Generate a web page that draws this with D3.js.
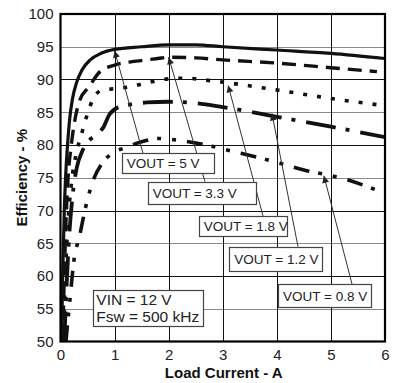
<!DOCTYPE html>
<html><head><meta charset="utf-8">
<script src="https://cdn.jsdelivr.net/npm/d3@7"></script>
<style>body{margin:0;background:#fff}svg{display:block}</style>
</head><body>
<svg id="c" width="396" height="383"></svg>
<script>
// ---- data ----
const xTicks = [0, 1, 2, 3, 4, 5, 6];
const yTicks = [50, 55, 60, 65, 70, 75, 80, 85, 90, 95, 100];
const seriesNames = ["VOUT = 5 V", "VOUT = 3.3 V", "VOUT = 1.8 V", "VOUT = 1.2 V", "VOUT = 0.8 V"];
const vout5V = [[0.02,50],[0.04,60],[0.07,70],[0.1,76],[0.13,80],[0.17,84],[0.22,87],[0.3,89.6],[0.4,91.5],[0.55,93],[0.75,94],[1,94.6],[1.5,95],[2,95.3],[2.5,95.3],[3,95],[4,94.5],[5,94],[6,93.2]];
const vout3V3 = [[0.04,50],[0.07,60],[0.1,68],[0.14,75],[0.2,80],[0.27,84],[0.36,86.9],[0.52,88.8],[0.73,91.2],[1,92.2],[1.4,92.8],[1.8,93.2],[2,93.4],[2.5,93.3],[3,93],[4,92.5],[5,91.8],[5.85,91.2]];
const vout1V8 = [[0.05,50],[0.09,60],[0.13,67],[0.2,74],[0.3,79],[0.4,82],[0.5,84.8],[0.6,87],[0.75,88.3],[1,88.6],[1.3,88.9],[1.6,89.5],[2,90.1],[2.3,90.2],[2.8,89.8],[3,89.6],[4,88.4],[5,87.1],[5.9,86.1]];
const vout1V2 = [[0.07,50],[0.11,58],[0.16,66],[0.22,72],[0.3,76.5],[0.4,79],[0.5,80.4],[0.7,81.8],[0.8,82.8],[0.9,84.6],[1.05,85.7],[1.3,86.2],[1.6,86.5],[2,86.6],[2.5,86.4],[3,85.8],[4,84.3],[5,82.8],[6,81.2]];
const vout0V8 = [[0.1,50],[0.17,56],[0.25,62.5],[0.35,66],[0.45,70],[0.6,74.5],[0.77,77.2],[0.95,78.7],[1.2,79.6],[1.5,80.5],[1.8,81],[2.1,80.8],[2.5,80.3],[2.8,79.8],[3.1,79.2],[3.8,77.8],[4.5,76.2],[5.3,74.7],[5.85,73.1]];
// arrow targets on the curves (load A, efficiency %)
const arrowTargets = [[1.0,94.4],[2.0,93.4],[3.1,89.1],[3.91,84.8],[4.87,75.3]];
const conditionLines = ["VIN = 12 V", "Fsw = 500 kHz"];

// ---- layout ----
const m = {l: 60.5, r: 385, t: 14, b: 341.5};
const svg = d3.select("#c");
const x = d3.scaleLinear().domain([0, 6]).range([m.l, m.r]);
const y = d3.scaleLinear().domain([50, 100]).range([m.b, m.t]);
const font = "'Liberation Sans', Arial, sans-serif";

// grid
svg.append("g").selectAll("line").data(yTicks.slice(1, -1)).join("line")
  .attr("x1", m.l).attr("x2", m.r)
  .attr("y1", d => Math.round(y(d)) + 0.5).attr("y2", d => Math.round(y(d)) + 0.5)
  .attr("stroke", d => d % 10 === 0 ? "#111" : "#8a8a8a").attr("stroke-width", 1);
svg.append("g").selectAll("line").data(xTicks.slice(1, -1)).join("line")
  .attr("y1", m.t).attr("y2", m.b)
  .attr("x1", d => Math.round(x(d)) + 0.5).attr("x2", d => Math.round(x(d)) + 0.5)
  .attr("stroke", "#111").attr("stroke-width", 1);

// clip
svg.append("clipPath").attr("id", "clip").append("rect")
  .attr("x", m.l).attr("y", m.t).attr("width", m.r - m.l).attr("height", m.b - m.t);

const styles = [
  {dash: null, w: 3.2},
  {dash: "14,8", w: 3.4},
  {dash: "4,10", w: 3.6},
  {dash: "30,10,4,11", w: 3.8},
  {dash: "16,9,4,11,4,11", w: 3.6}
];
const allSeries = [vout5V, vout3V3, vout1V8, vout1V2, vout0V8];
const line = d3.line().x(d => x(d[0])).y(d => y(d[1])).curve(d3.curveMonotoneX);
svg.append("g").attr("clip-path", "url(#clip)").selectAll("path").data(allSeries).join("path")
  .attr("d", line).attr("fill", "none").attr("stroke", "#111")
  .attr("stroke-width", (d, i) => styles[i].w)
  .attr("stroke-dasharray", (d, i) => styles[i].dash)
  .attr("stroke-linecap", "butt").attr("stroke-linejoin", "round");

// frame
svg.append("rect").attr("x", m.l).attr("y", m.t).attr("width", m.r - m.l).attr("height", m.b - m.t)
  .attr("fill", "none").attr("stroke", "#000").attr("stroke-width", 2.2);

// axes
const ya = svg.append("g").attr("transform", `translate(${m.l},0)`)
  .call(d3.axisLeft(y).tickValues(yTicks).tickFormat(d3.format("d")).tickSize(0).tickPadding(7));
const xa = svg.append("g").attr("transform", `translate(0,${m.b})`)
  .call(d3.axisBottom(x).tickValues(xTicks).tickFormat(d3.format("d")).tickSize(0).tickPadding(8));
[ya, xa].forEach(a => {
  a.select(".domain").remove();
  a.selectAll("text").attr("font-family", font).attr("font-size", 15).attr("fill", "#222");
});

svg.append("text").attr("x", (m.l + m.r) / 2 + 1).attr("y", 378).attr("text-anchor", "middle")
  .attr("font-family", font).attr("font-weight", "bold").attr("font-size", 15).attr("fill", "#111")
  .text("Load Current - A");
svg.append("text").attr("transform", `translate(27,${(m.t + m.b) / 2}) rotate(-90)`)
  .attr("text-anchor", "middle")
  .attr("font-family", font).attr("font-weight", "bold").attr("font-size", 15).attr("fill", "#111")
  .text("Efficiency - %");

// annotations
const boxes = [
  {x0: 121.7, y0: 153.3, x1: 214, y1: 173.3, ax: 143, ay: 153.3},
  {x0: 147.7, y0: 181.7, x1: 255.3, y1: 203.3, ax: 205, ay: 181.7},
  {x0: 198.7, y0: 216, x1: 286.7, y1: 236, ax: 263, ay: 216},
  {x0: 229.3, y0: 246.7, x1: 322.7, y1: 270.7, ax: 298, ay: 246.7},
  {x0: 278, y0: 284, x1: 371, y1: 307.3, ax: 352, ay: 284}
];
const defs = svg.append("defs");
defs.append("marker").attr("id", "ah").attr("viewBox", "0 0 10 10").attr("refX", 10).attr("refY", 5)
  .attr("markerWidth", 9).attr("markerHeight", 7).attr("markerUnits", "userSpaceOnUse")
  .attr("orient", "auto").append("path").attr("d", "M0,0L10,5L0,10z").attr("fill", "#222");

const ann = svg.append("g");
ann.selectAll("line").data(boxes).join("line")
  .attr("x1", d => d.ax).attr("y1", d => d.ay)
  .attr("x2", (d, i) => x(arrowTargets[i][0])).attr("y2", (d, i) => y(arrowTargets[i][1]))
  .attr("stroke", "#333").attr("stroke-width", 1).attr("marker-end", "url(#ah)");
ann.selectAll("rect").data(boxes).join("rect")
  .attr("x", d => Math.round(d.x0) + 0.5).attr("y", d => Math.round(d.y0) + 0.5)
  .attr("width", d => Math.round(d.x1 - d.x0)).attr("height", d => Math.round(d.y1 - d.y0))
  .attr("fill", "#fff").attr("stroke", "#444").attr("stroke-width", 1.2);
ann.selectAll("text").data(boxes).join("text")
  .attr("x", d => d.x0 + 5).attr("y", d => (d.y0 + d.y1) / 2 + 5)
  .attr("font-family", font).attr("font-size", 13.5).attr("fill", "#222")
  .text((d, i) => seriesNames[i]);

// conditions box
const cb = {x0: 93.3, y0: 290, x1: 203.3, y1: 325.7};
svg.append("rect").attr("x", Math.round(cb.x0) + 0.5).attr("y", cb.y0 + 0.5)
  .attr("width", Math.round(cb.x1 - cb.x0)).attr("height", Math.round(cb.y1 - cb.y0))
  .attr("fill", "#fff").attr("stroke", "#444").attr("stroke-width", 1.2);
svg.append("g").selectAll("text").data(conditionLines).join("text")
  .attr("x", cb.x0 + 3).attr("y", (d, i) => cb.y0 + 15 + i * 17)
  .attr("font-family", font).attr("font-size", 15.5).attr("fill", "#222")
  .text(d => d);
</script>
</body></html>
